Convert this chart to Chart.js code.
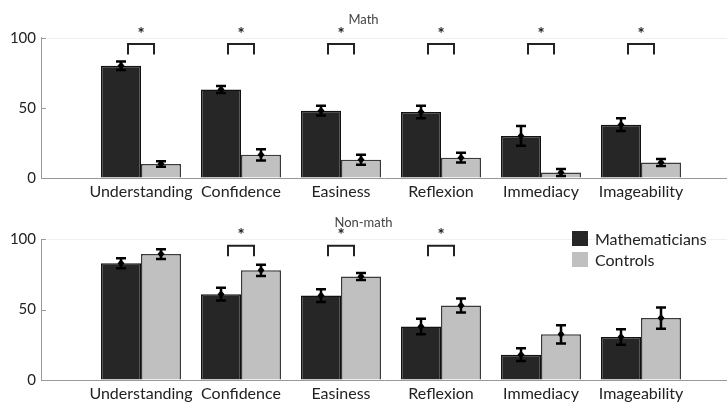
<!DOCTYPE html>
<html>
<head>
<meta charset="utf-8">
<script src="https://cdn.jsdelivr.net/npm/chart.js@4"></script>
<style>
    body { margin: 0; background: #fff; }
    #wrap { position: relative; width: 727px; height: 403px; font-family: Lato, sans-serif; }
    #top-panel { position: absolute; left: 0; top: 0; }
    #bottom-panel { position: absolute; left: 0; top: 200px; }
    #legend { position: absolute; left: 572px; top: 228px; font-size: 16px; color: #222; }
    .legend-row { display: flex; align-items: center; height: 21px; }
    .legend-box { width: 16px; height: 15px; margin-right: 7px; }
</style>
</head>
<body>
<div id="wrap">
    <canvas id="top-panel" width="727" height="200"></canvas>
    <canvas id="bottom-panel" width="727" height="203"></canvas>
    <div id="legend">
        <div class="legend-row"><span class="legend-box" style="background:#262626"></span>Mathematicians</div>
        <div class="legend-row"><span class="legend-box" style="background:#c0c0c0"></span>Controls</div>
    </div>
</div>
<script>
// Categories and tick labels
const categories = ['Understanding', 'Confidence', 'Easiness', 'Reflexion', 'Immediacy', 'Imageability'];
const yTicks = [0, 50, 100];

// Math panel
const mathMathematicians = [80, 63, 48, 47, 30, 38];
const mathMathematiciansErr = [3, 2.5, 3.5, 4.5, 7, 4.5];
const mathControls = [10, 16.5, 13, 14.5, 4, 11];
const mathControlsErr = [2, 4, 3.5, 3.5, 2.5, 2.5];
const mathSignificant = [true, true, true, true, true, true];

// Non-math panel
const nonMathMathematicians = [83, 61, 60, 38, 18, 30.5];
const nonMathMathematiciansErr = [3.5, 4.5, 4.5, 5.5, 4.5, 5.5];
const nonMathControls = [89.5, 78, 73.5, 53, 32.5, 44];
const nonMathControlsErr = [3.5, 4, 2.5, 5, 6.5, 7.5];
const nonMathSignificant = [false, true, true, true, false, false];

const FONT = 'Lato, sans-serif';
const DARK = '#262626';
const LIGHT = '#c0c0c0';

/**
 * Error bars, significance brackets and inward y ticks
 */
const extrasPlugin = {
    id: 'extras',
    afterDatasetsDraw(chart, args, opts) {
        const ctx = chart.ctx;
        const xScale = chart.scales.x;
        const yScale = chart.scales.y;
        const area = chart.chartArea;
        ctx.save();

        // faint top line
        ctx.strokeStyle = '#f0f0f0';
        ctx.lineWidth = 1;
        ctx.beginPath();
        ctx.moveTo(area.left + 6, Math.round(yScale.getPixelForValue(100)) + 0.5);
        ctx.lineTo(area.right, Math.round(yScale.getPixelForValue(100)) + 0.5);
        ctx.stroke();

        // inward y ticks
        ctx.strokeStyle = '#999';
        yTicks.forEach(t => {
            const y = Math.round(yScale.getPixelForValue(t)) + 0.5;
            ctx.beginPath();
            ctx.moveTo(area.left, y);
            ctx.lineTo(area.left + 5, y);
            ctx.stroke();
        });

        // error bars
        ctx.strokeStyle = '#000';
        ctx.fillStyle = '#000';
        opts.errors.forEach((errs, di) => {
            const meta = chart.getDatasetMeta(di);
            meta.data.forEach((bar, i) => {
                const v = chart.data.datasets[di].data[i].y;
                const yTop = yScale.getPixelForValue(v + errs[i]);
                const yBot = yScale.getPixelForValue(v - errs[i]);
                const yMid = yScale.getPixelForValue(v);
                ctx.lineWidth = 2.5;
                ctx.beginPath();
                ctx.moveTo(bar.x, yTop);
                ctx.lineTo(bar.x, yBot);
                ctx.moveTo(bar.x - 5, yTop);
                ctx.lineTo(bar.x + 5, yTop);
                ctx.moveTo(bar.x - 5, yBot);
                ctx.lineTo(bar.x + 5, yBot);
                ctx.stroke();
                ctx.beginPath();
                ctx.moveTo(bar.x, yMid - 4);
                ctx.lineTo(bar.x + 3.5, yMid);
                ctx.lineTo(bar.x, yMid + 4);
                ctx.lineTo(bar.x - 3.5, yMid);
                ctx.closePath();
                ctx.fill();
            });
        });

        // significance brackets
        ctx.strokeStyle = '#222';
        ctx.fillStyle = '#222';
        ctx.lineWidth = 2;
        opts.significant.forEach((sig, i) => {
            if (!sig) return;
            const cx = xScale.getPixelForValue(i + 1);
            const yT = yScale.getPixelForValue(95.5);
            const yB = yScale.getPixelForValue(88);
            ctx.beginPath();
            ctx.moveTo(cx - 13, yB);
            ctx.lineTo(cx - 13, yT);
            ctx.lineTo(cx + 13, yT);
            ctx.lineTo(cx + 13, yB);
            ctx.stroke();
            ctx.font = 'bold 17px ' + FONT;
            ctx.textAlign = 'center';
            ctx.textBaseline = 'middle';
            ctx.fillText('*', cx, yScale.getPixelForValue(104) + 2);
        });
        ctx.restore();
    }
};

function toPoints(values) {
    return values.map((v, i) => ({ x: i + 1, y: v }));
}

function makePanel(canvasId, title, titlePad, mathVals, ctrlVals, mathErr, ctrlErr, significant, xHeight) {
    const ctx = document.getElementById(canvasId).getContext('2d');
    return new Chart(ctx, {
        type: 'bar',
        data: {
            datasets: [{
                label: 'Mathematicians',
                data: toPoints(mathVals),
                backgroundColor: DARK,
                borderColor: '#111',
                borderWidth: 1.5
            }, {
                label: 'Controls',
                data: toPoints(ctrlVals),
                backgroundColor: LIGHT,
                borderColor: '#3a3a3a',
                borderWidth: 1.5
            }]
        },
        options: {
            responsive: false,
            animation: false,
            layout: { padding: { left: 0, right: 0, top: 0, bottom: 0 } },
            datasets: { bar: { categoryPercentage: 0.8, barPercentage: 1 } },
            scales: {
                x: {
                    type: 'linear',
                    offset: false,
                    min: 0,
                    max: 6.86,
                    grid: { display: true, drawOnChartArea: false, drawTicks: false, offset: false },
                    border: { color: '#999', width: 1 },
                    ticks: {
                        stepSize: 1,
                        includeBounds: false,
                        autoSkip: false,
                        maxRotation: 0,
                        padding: 4,
                        color: '#222',
                        font: { family: FONT, size: 16 },
                        callback: v => (Number.isInteger(v) && v >= 1 && v <= 6) ? categories[v - 1] : ''
                    },
                    afterFit: s => { s.height = xHeight; }
                },
                y: {
                    min: 0,
                    max: 100,
                    grid: { display: true, drawOnChartArea: false, drawTicks: false },
                    border: { color: '#999', width: 1 },
                    afterBuildTicks: s => { s.ticks = yTicks.map(v => ({ value: v })); },
                    ticks: {
                        padding: 5,
                        color: '#222',
                        font: { family: FONT, size: 15 }
                    },
                    afterFit: s => { s.width = 41; }
                }
            },
            plugins: {
                legend: { display: false },
                tooltip: { enabled: false },
                title: {
                    display: true,
                    text: title,
                    color: '#444',
                    font: { family: FONT, size: 13, weight: 'normal' },
                    padding: titlePad
                },
                extras: { errors: [mathErr, ctrlErr], significant: significant }
            }
        },
        plugins: [extrasPlugin]
    });
}

makePanel('top-panel', 'Math', { top: 12.5, bottom: 9.6 },
    mathMathematicians, mathControls, mathMathematiciansErr, mathControlsErr, mathSignificant, 22);
makePanel('bottom-panel', 'Non-math', { top: 15.5, bottom: 8.2 },
    nonMathMathematicians, nonMathControls, nonMathMathematiciansErr, nonMathControlsErr, nonMathSignificant, 23);
</script>
</body>
</html>
